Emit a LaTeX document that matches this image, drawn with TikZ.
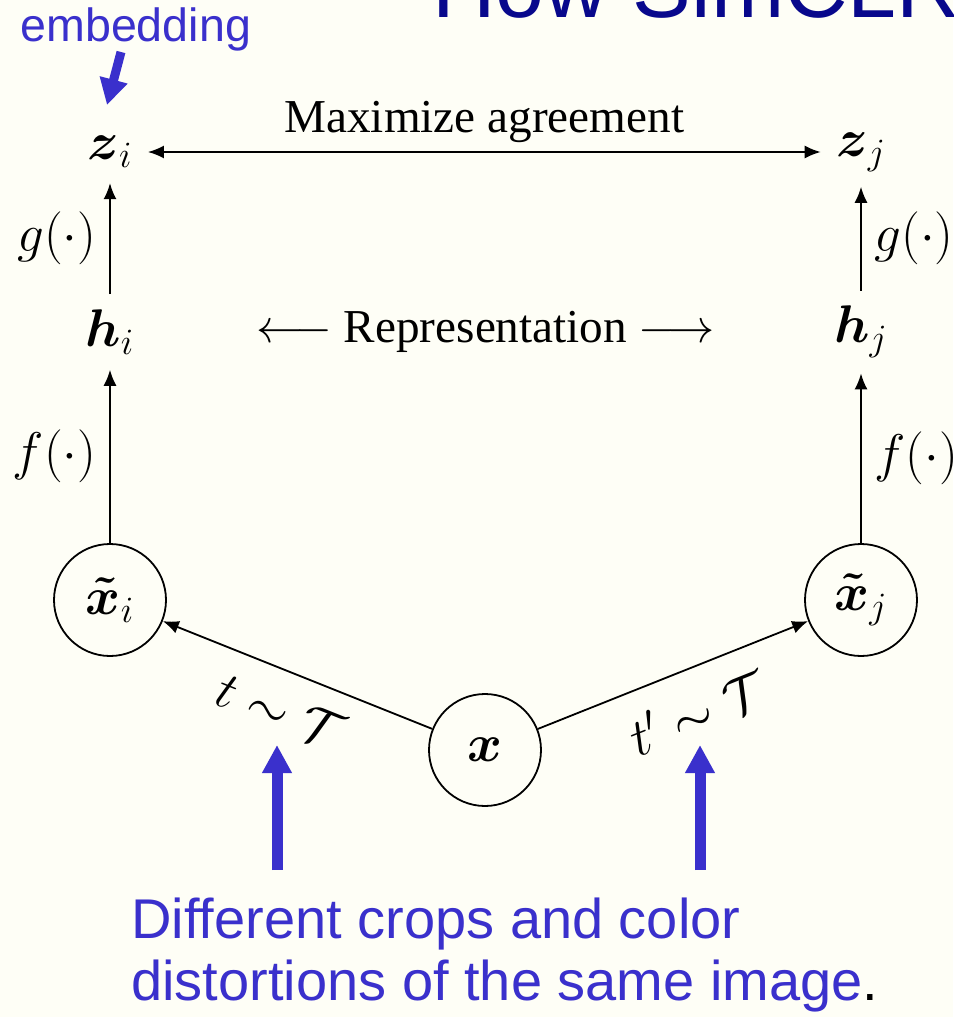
\RequirePackage{fix-cm}
\documentclass[tikz,border=0pt]{standalone}
\usepackage{amsmath,amssymb}
\usepackage{fontspec}
\setmainfont{Liberation Serif}
\newfontfamily\slidefont{Liberation Sans}
\usepackage{xcolor}
\usepackage{tikz}
\usetikzlibrary{arrows.meta,positioning,calc}

\definecolor{slideblue}{RGB}{58,48,204}
\definecolor{titleblue}{RGB}{8,8,140}
\definecolor{slidebg}{RGB}{254,254,246}

\begin{document}
\begin{tikzpicture}[
    x=0.5pt, y=-0.5pt,
    font=\fontsize{23.6}{28.3}\selectfont,
    >={Latex[length=8pt, width=6.5pt]},
    sym/.style={font=\fontsize{26.5}{31}\selectfont},
    vec/.style={sym, inner sep=7.5pt},
    view/.style={sym, draw, circle, line width=0.9pt, minimum size=56pt, inner sep=0pt},
    flow/.style={->, line width=0.9pt},
    note/.style={text=slideblue, inner sep=0pt},
    hint/.style={-{Triangle[length=14pt, width=14pt]}, line width=5.5pt, slideblue}
]
% page
\useasboundingbox (0,0) rectangle (953,1017);
\clip (0,0) rectangle (953,1017);
\fill[slidebg] (0,0) rectangle (953,1017);

% slide title, cut by the top edge
\node[anchor=base west, inner sep=0pt, text=titleblue, font=\slidefont\fontsize{44}{50}\selectfont] (title) at (432,18) {How SimCLR};

% image, views, representations, embeddings
\node[view] (x) at (485,750) {$\boldsymbol{x}$};
\node[view] (xi) at (110,600) {$\boldsymbol{\tilde{x}}_i$};
\node[view] (xj) at (861,600) {$\boldsymbol{\tilde{x}}_j$};
\node[vec] (hi) at (110,332) {$\boldsymbol{h}_i$};
\node[vec] (hj) at (861,332) {$\boldsymbol{h}_j$};
\node[vec] (zi) at (110,152) {$\boldsymbol{z}_i$};
\node[vec] (zj) at (861,152) {$\boldsymbol{z}_j$};
\node (rep) at ($(hi)!0.5!(hj)$) {$\longleftarrow$ Representation $\longrightarrow$};

\draw[flow] (x) -- node[sym, sloped, below=7pt, pos=0.51] (tl) {$t\sim\mathcal{T}$} (xi);
\draw[flow] (x) -- node[sym, sloped, below=8pt, pos=0.53] (tr) {$t'\sim\mathcal{T}$} (xj);
\draw[flow] (xi) -- node[sym, left=3pt] (fi) {$f(\cdot)$} (hi);
\draw[flow] (xj) -- node[sym, right=3pt] (fj) {$f(\cdot)$} (hj);
\draw[flow] (hi) -- node[sym, left=3pt] (gi) {$g(\cdot)$} (zi);
\draw[flow] (hj) -- node[sym, right=3pt] (gj) {$g(\cdot)$} (zj);
\draw[flow, <->] (zi) -- node[above=1pt] (agree) {Maximize agreement} (zj);

% slide notes in blue
\node[note, anchor=base west, font=\slidefont\fontsize{23.3}{28}\selectfont] (emb) at (20,41) {embedding};
\coordinate (embTail) at (121,52);
\coordinate (embHead) at (107,105);
\draw[hint, line width=4.5pt, -{Triangle[length=13pt, width=13.5pt]}] (embTail) -- (embHead);

\node[note, anchor=north west, align=left, font=\slidefont\fontsize{28}{31}\selectfont] (crops) at (131,898) {Different crops and color\\distortions of the same image{\color{black}.}};
\coordinate (tailL) at (277,870);
\coordinate (headL) at (277,745);
\coordinate (tailR) at (700,870);
\coordinate (headR) at (700,745);
\draw[hint] (tailL) -- (headL);
\draw[hint] (tailR) -- (headR);
\end{tikzpicture}
\end{document}
